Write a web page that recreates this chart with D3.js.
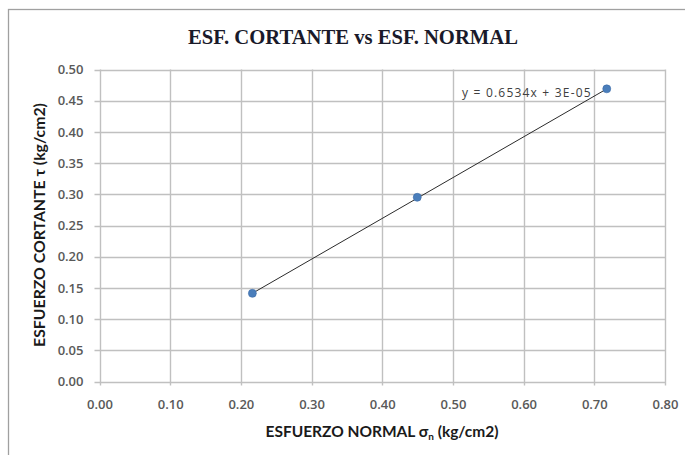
<!DOCTYPE html>
<html><head><meta charset="utf-8">
<script src="https://cdn.jsdelivr.net/npm/d3@7"></script>
<style>
html,body{margin:0;padding:0;background:#fff;}
svg{display:block;}
</style></head>
<body>
<svg id="chart" width="685" height="455"></svg>
<script>
const title = "ESF. CORTANTE vs ESF. NORMAL";
const xLabelMain = "ESFUERZO NORMAL σ";
const xLabelSub = "n";
const xLabelTail = " (kg/cm2)";
const yLabel = "ESFUERZO CORTANTE τ (kg/cm2)";
const normalStress = [0.2163, 0.4495, 0.7176];
const shearStress = [0.1413, 0.2952, 0.4690];
const xTicks = [0, 0.1, 0.2, 0.3, 0.4, 0.5, 0.6, 0.7, 0.8];
const yTicks = [0, 0.05, 0.1, 0.15, 0.2, 0.25, 0.3, 0.35, 0.4, 0.45, 0.5];
const trendSlope = [0.6534];
const trendIntercept = [0.00003];
const trendText = "y = 0.6534x + 3E-05";

const svg = d3.select("#chart");
const m = {left: 99.5, right: 665, top: 69.5, bottom: 381.5};

// outer chart border
svg.append("rect").attr("x", 8.5).attr("y", 9.5).attr("width", 700).attr("height", 600)
  .attr("fill", "none").attr("stroke", "#a0a0a0").attr("stroke-width", 1.3);

const x = d3.scaleLinear().domain([0, 0.8]).range([m.left, m.right]);
const y = d3.scaleLinear().domain([0, 0.5]).range([m.bottom, m.top]);

const gridColor = "#c0c0c0";
svg.append("g").selectAll("line").data(xTicks).join("line")
  .attr("x1", d => Math.round(x(d)) + 0.5).attr("x2", d => Math.round(x(d)) + 0.5)
  .attr("y1", m.top).attr("y2", m.bottom + 4)
  .attr("stroke", gridColor).attr("stroke-width", 1.4);
svg.append("g").selectAll("line").data(yTicks).join("line")
  .attr("x1", m.left - 5).attr("x2", m.right)
  .attr("y1", d => Math.round(y(d)) + 0.5).attr("y2", d => Math.round(y(d)) + 0.5)
  .attr("stroke", gridColor).attr("stroke-width", 1.4);

const tickFont = "'Open Sans', 'Liberation Sans', sans-serif";
const fmt = d3.format(".2f");
const xAxis = svg.append("g").attr("transform", `translate(0,${m.bottom})`)
  .call(d3.axisBottom(x).tickValues(xTicks).tickFormat(fmt).tickSize(0).tickPadding(18));
const yAxis = svg.append("g").attr("transform", `translate(${m.left},0)`)
  .call(d3.axisLeft(y).tickValues(yTicks).tickFormat(fmt).tickSize(0).tickPadding(16));
[xAxis, yAxis].forEach(g => {
  g.select(".domain").remove();
  g.selectAll("text").attr("fill", "#595959")
    .style("font-family", tickFont)
    .style("font-size", "13px").style("font-weight", "600");
});

// trendline from first to last point
const xs = d3.extent(normalStress);
svg.append("line")
  .attr("x1", x(xs[0])).attr("y1", y(trendSlope[0] * xs[0] + trendIntercept[0]))
  .attr("x2", x(xs[1])).attr("y2", y(trendSlope[0] * xs[1] + trendIntercept[0]))
  .attr("stroke", "#2b2b2b").attr("stroke-width", 1);

svg.append("g").selectAll("circle").data(normalStress).join("circle")
  .attr("cx", d => x(d)).attr("cy", (d, i) => y(shearStress[i]))
  .attr("r", 4).attr("fill", "#4a7ebb").attr("stroke", "#3a6aa6").attr("stroke-width", 0.6);

svg.append("text").attr("x", 462).attr("y", 97).text(trendText)
  .attr("fill", "#404040").style("font-family", tickFont)
  .style("font-size", "12px").style("letter-spacing", "1.2px");

// title (serif, like Cambria bold)
const titleEl = svg.append("text").attr("x", 353).attr("y", 43.5).attr("text-anchor", "middle").text(title)
  .attr("fill", "#1a1a2a").style("font-family", "'Liberation Serif', 'DejaVu Serif', serif")
  .style("font-size", "22px").style("font-weight", "bold");
const tw = titleEl.node().getComputedTextLength();
if (Math.abs(tw - 330) > 4) titleEl.attr("textLength", 330).attr("lengthAdjust", "spacingAndGlyphs");

const labelFont = "Lato, 'Open Sans', sans-serif";
const xl = svg.append("text").attr("x", 382).attr("y", 437).attr("text-anchor", "middle")
  .attr("fill", "#1a1a1a").style("font-family", labelFont)
  .style("font-size", "15.5px").style("font-weight", "bold");
xl.append("tspan").text(xLabelMain);
xl.append("tspan").attr("dy", 3).style("font-size", "10px").text(xLabelSub);
xl.append("tspan").attr("dy", -3).text(xLabelTail);

svg.append("text").attr("transform", "translate(45,225) rotate(-90)").attr("text-anchor", "middle")
  .text(yLabel).attr("fill", "#1a1a1a").style("font-family", labelFont)
  .style("font-size", "15.8px").style("font-weight", "bold");
</script>
</body></html>
